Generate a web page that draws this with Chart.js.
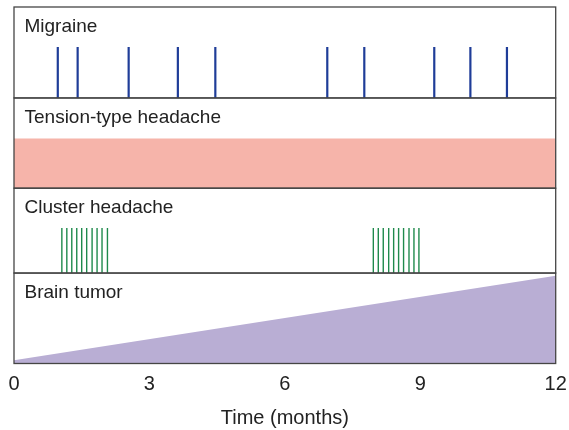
<!DOCTYPE html>
<html>
<head>
<meta charset="utf-8">
<style>
  html, body { margin: 0; padding: 0; background: #fff; }
  #wrap { width: 569px; height: 430px; position: relative; }
</style>
<script src="https://cdn.jsdelivr.net/npm/chart.js@4/dist/chart.umd.min.js"></script>
</head>
<body>
<div id="wrap"><canvas id="c" width="569" height="430"></canvas></div>
<script>
// ---- data ----
const panelNames = ['Migraine', 'Tension-type headache', 'Cluster headache', 'Brain tumor'];
const xTicks = [0, 3, 6, 9, 12];
const axisTitle = 'Time (months)';

// Migraine attacks (months)
const migraineMonths = [0.97, 1.41, 2.54, 3.63, 4.46, 6.94, 7.76, 9.31, 10.11, 10.92];
const migraineIntensity = 0.56;

// Tension-type headache: constant daily level
const tensionMonths = [0, 12];
const tensionLevel = [0.55, 0.55];

// Cluster headache bouts (months)
const clusterMonths = [1.06, 1.17, 1.28, 1.39, 1.50, 1.61, 1.73, 1.84, 1.95, 2.07,
                       7.96, 8.07, 8.18, 8.30, 8.41, 8.52, 8.63, 8.75, 8.86, 8.97];
const clusterIntensity = 0.53;

// Brain tumor: progressive
const tumorMonths = [0, 12];
const tumorLevel = [0.035, 0.97];

// ---- helpers building datasets from the arrays ----
function spikes(months, h) {
  const out = [];
  months.forEach(m => { out.push({x: m, y: 0}, {x: m, y: h}, {x: m, y: null}); });
  return out;
}
function pairs(xs, ys) { return xs.map((x, i) => ({x: x, y: ys[i]})); }

const FONT = '"Liberation Sans", Arial, Helvetica, sans-serif';

const panelAxes = ['yMigraine', 'yTension', 'yCluster', 'yTumor'];

const panelPlugin = {
  id: 'panels',
  afterDatasetsDraw(chart) {
    const {ctx, chartArea} = chart;
    ctx.save();
    ctx.strokeStyle = '#454545';
    ctx.lineWidth = 1.3;
    panelAxes.forEach((id, i) => {
      const s = chart.scales[id];
      ctx.strokeRect(chartArea.left, s.top, chartArea.right - chartArea.left, s.bottom - s.top);
      ctx.fillStyle = '#222';
      ctx.font = '19px ' + FONT;
      ctx.textBaseline = 'alphabetic';
      ctx.textAlign = 'left';
      ctx.fillText(panelNames[i], chartArea.left + 10.5, s.top + 25);
    });
    ctx.restore();
  }
};

const hiddenPanel = (w) => ({
  type: 'linear', min: 0, max: 1, display: false,
  stack: 'panels', stackWeight: w, position: 'left'
});

new Chart(document.getElementById('c'), {
  type: 'line',
  data: {
    datasets: [
      {
        label: panelNames[0], yAxisID: 'yMigraine',
        data: spikes(migraineMonths, migraineIntensity),
        borderColor: '#1f3d98', borderWidth: 2.2, pointRadius: 0,
        spanGaps: false, fill: false, tension: 0
      },
      {
        label: panelNames[1], yAxisID: 'yTension',
        data: pairs(tensionMonths, tensionLevel),
        borderWidth: 0, borderColor: 'rgba(0,0,0,0)', pointRadius: 0,
        backgroundColor: '#f6b4aa', fill: 'origin'
      },
      {
        label: panelNames[2], yAxisID: 'yCluster',
        data: spikes(clusterMonths, clusterIntensity),
        borderColor: '#1f8a4c', borderWidth: 1.4, pointRadius: 0,
        spanGaps: false, fill: false, tension: 0
      },
      {
        label: panelNames[3], yAxisID: 'yTumor',
        data: pairs(tumorMonths, tumorLevel),
        borderWidth: 0, borderColor: 'rgba(0,0,0,0)', pointRadius: 0,
        backgroundColor: '#b9aed4', fill: 'origin'
      }
    ]
  },
  options: {
    responsive: false,
    animation: false,
    events: [],
    layout: { padding: { left: 14, right: 13.3, top: 7, bottom: 0 } },
    plugins: { legend: { display: false }, tooltip: { enabled: false } },
    scales: {
      x: {
        type: 'linear', min: 0, max: 12,
        afterBuildTicks: (axis) => { axis.ticks = xTicks.map(v => ({value: v})); },
        afterFit: (axis) => { axis.paddingLeft = 0; axis.paddingRight = 0; },
        grid: { display: false, drawTicks: false },
        border: { display: false },
        ticks: { color: '#222', font: { size: 20, family: FONT }, padding: 8.5, maxRotation: 0 },
        title: { display: true, text: axisTitle, color: '#222', font: { size: 20, family: FONT }, padding: { top: 1.5, bottom: 0 } }
      },
      yTumor: hiddenPanel(90.2),
      yCluster: hiddenPanel(84.6),
      yTension: hiddenPanel(90),
      yMigraine: hiddenPanel(90.7)
    }
  },
  plugins: [panelPlugin]
});
</script>
</body>
</html>
